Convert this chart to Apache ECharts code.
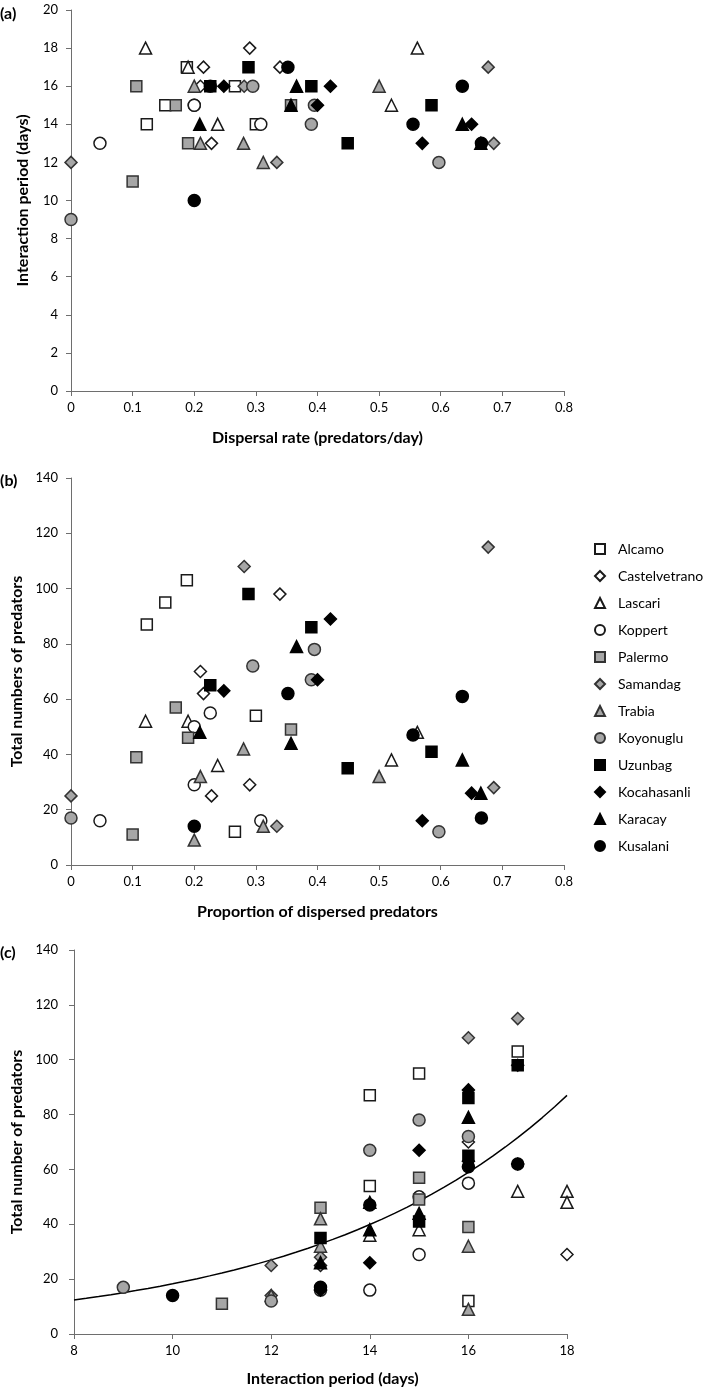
<!DOCTYPE html>
<html><head><meta charset="utf-8">
<script src="https://cdn.jsdelivr.net/npm/echarts@6/dist/echarts.min.js"></script>
<style>html,body{margin:0;padding:0;background:#fff}#c{width:709px;height:1390px}</style>
</head><body><div id="c"></div>
<script>
// ---- data: each point = [dispersal rate / proportion dispersed, interaction period (days), total predators]
const populations = ['Alcamo','Castelvetrano','Lascari','Koppert','Palermo','Samandag','Trabia','Koyonuglu','Uzunbag','Kocahasanli','Karacay','Kusalani'];
const alcamo      = [[0.123,14,87],[0.153,15,95],[0.188,17,103],[0.266,16,12],[0.300,14,54]];
const castelvetrano = [[0.210,16,70],[0.215,17,62],[0.228,13,25],[0.290,18,29],[0.339,17,98]];
const lascari     = [[0.121,18,52],[0.190,17,52],[0.238,14,36],[0.520,15,38],[0.562,18,48]];
const koppert     = [[0.047,13,16],[0.226,16,55],[0.200,15,50],[0.200,15,29],[0.308,14,16]];
const palermo     = [[0.106,16,39],[0.170,15,57],[0.190,13,46],[0.100,11,11],[0.357,15,49]];
const samandag    = [[0.000,12,25],[0.281,16,108],[0.334,12,14],[0.677,17,115],[0.686,13,28]];
const trabia      = [[0.200,16,9],[0.210,13,32],[0.280,13,42],[0.312,12,14],[0.500,16,32]];
const koyonuglu   = [[0.000,9,17],[0.295,16,72],[0.390,14,67],[0.395,15,78],[0.597,12,12]];
const uzunbag     = [[0.226,16,65],[0.288,17,98],[0.390,16,86],[0.449,13,35],[0.585,15,41]];
const kocahasanli = [[0.248,16,63],[0.421,16,89],[0.400,15,67],[0.570,13,16],[0.650,14,26]];
const karacay     = [[0.209,14,48],[0.366,16,79],[0.357,15,44],[0.635,14,38],[0.665,13,26]];
const kusalani    = [[0.200,10,14],[0.352,17,62],[0.555,14,47],[0.635,16,61],[0.666,13,17]];
const popData = [alcamo,castelvetrano,lascari,koppert,palermo,samandag,trabia,koyonuglu,uzunbag,kocahasanli,karacay,kusalani];

// exponential trendline y = a * exp(b * x), coefficients
const trendA = 2.61;
const trendB = 0.1948;

const rateTicks = [0, 0.8, 0.1];
const periodTicksA = [0, 20, 2];
const totalTicks = [0, 140, 20];
const periodTicksC = [8, 18, 2];
const panelLabels = ['(a)','(b)','(c)'];

// ---- styles
const shapes = ['rect','diamond','triangle','circle'];
const fills = ['#ffffff','#a6a6a6','#000000'];
const borders = ['#1a1a1a','#333333','#000000'];
const sizes = {rect:11, diamond:12, triangle:12, circle:12};

const FONT = 'Lato, "Open Sans", sans-serif';
const axisColor = '#6e6e6e';
const titleStyle = {fontWeight:'bold', fontSize:16, color:'#000', fontFamily:FONT};

function axis(range, gridIndex, name, nameGap, labelMargin, extraName) {
  return {
    type:'value', gridIndex, min:range[0], max:range[1], interval:range[2],
    name, nameLocation:'middle', nameGap,
    nameTextStyle:Object.assign({}, titleStyle, extraName || {}),
    axisLine:{show:true, onZero:false, lineStyle:{color:axisColor, width:1}},
    axisTick:{show:true, length:5, lineStyle:{color:axisColor, width:1}},
    splitLine:{show:false},
    axisLabel:{color:'#000', fontSize:13, fontFamily:FONT, margin:labelMargin}
  };
}

const trend = [];
for (let x = periodTicksC[0]; x <= periodTicksC[1] + 1e-9; x += 0.25) trend.push([x, trendA*Math.exp(trendB*x)]);

const panels = [[0,1],[0,2],[1,2]];
const series = [];
panels.forEach((f, p) => {
  populations.forEach((name, k) => {
    const sym = shapes[k % 4];
    const tone = Math.floor(k / 4);
    series.push({
      type:'scatter', name, xAxisIndex:p, yAxisIndex:p,
      data: popData[k].map(d => [d[f[0]], d[f[1]]]),
      symbol: sym, symbolSize: sizes[sym],
      itemStyle:{color:fills[tone], borderColor:borders[tone], borderWidth:1.5, opacity:1},
      emphasis:{disabled:true}, silent:true, z:2
    });
  });
});
series.push({
  type:'line', name:'trend', xAxisIndex:2, yAxisIndex:2, data:trend,
  showSymbol:false, symbol:'none', smooth:false, silent:true,
  lineStyle:{color:'#000', width:1.5}, z:1
});

const labelTops = [6, 473, 945];
const option = {
  animation:false,
  backgroundColor:'#fff',
  textStyle:{fontFamily:FONT},
  grid:[
    {left:71, top:10, width:493, height:381},
    {left:71, top:478, width:493, height:387},
    {left:74, top:950, width:493, height:384}
  ],
  xAxis:[
    axis(rateTicks, 0, 'Dispersal rate (predators/day)', 39, 10),
    axis(rateTicks, 1, 'Proportion of dispersed predators', 39, 10),
    axis(periodTicksC, 2, 'Interaction period (days)', 37, 10, {padding:[0,0,0,24]})
  ],
  yAxis:[
    axis(periodTicksA, 0, 'Interaction period (days)', 40, 13),
    axis(totalTicks, 1, 'Total numbers of predators', 40, 13),
    axis(totalTicks, 2, 'Total number of predators', 43, 16)
  ],
  legend:{
    data:populations, orient:'vertical', left:589, top:537,
    itemWidth:10, itemHeight:10, itemGap:13, selectedMode:false,
    textStyle:{fontSize:14, fontFamily:FONT, color:'#000', padding:[0,0,0,8]}
  },
  title: panelLabels.map((t, i) => ({
    text:t, left:0, top:labelTops[i], padding:0,
    textStyle:{fontSize:16, fontWeight:'bold', fontFamily:FONT, color:'#000'}
  })),
  series
};
const chart = echarts.init(document.getElementById('c'), null, {renderer:'canvas'});
chart.setOption(option);
</script></body></html>
